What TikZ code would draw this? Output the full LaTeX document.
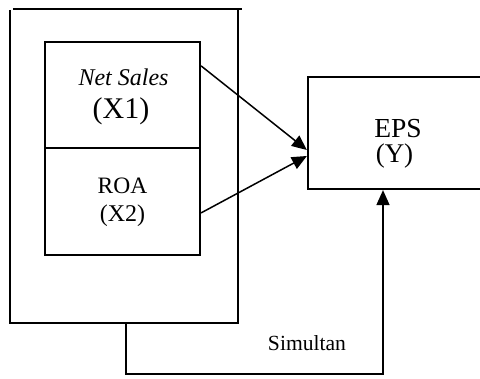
\documentclass[tikz,border=0pt]{standalone}
\usepackage{fontspec}
\setmainfont{Liberation Serif}
\usetikzlibrary{arrows.meta,calc}
\tikzset{
  frameline/.style={line width=1.7pt},
  varbox/.style={draw, line width=2.2pt, inner sep=0pt, fill=white},
  link/.style={line width=1.5pt, -{Triangle[length=15pt,width=13pt]}},
  lbl/.style={inner sep=0pt, anchor=base},
}
\begin{document}
\begin{tikzpicture}[x=1pt,y=-1pt]
  \useasboundingbox (0,0) rectangle (480,379);
  % enclosing frame around the independent variables
  \node[inner sep=0pt, minimum width=228pt, minimum height=314pt] (outer) at (124,166) {};
  \draw[frameline] ($(outer.north west)+(0,1.5)$) -- (outer.south west) -- (outer.south east) -- (outer.north east);
  \draw[frameline] ($(outer.north west)+(3,0)$) -- ($(outer.north east)+(3.5,0)$);
  % independent variables
  \node[varbox, minimum width=155pt, minimum height=106pt] (x1) at (122.5,95) {};
  \node[varbox, minimum width=155pt, minimum height=107pt] (x2) at (122.5,201.5) {};
  % dependent variable (open to the right)
  \node[varbox, minimum width=200pt, minimum height=112pt] (y) at (408,133) {};
  % labels
  \node[lbl, font=\fontsize{24}{26}\selectfont\itshape] (t1) at (123.5,86) {Net Sales};
  \node[lbl, font=\fontsize{30}{32}\selectfont] (t2) at (121,119) {(X1)};
  \node[lbl, font=\fontsize{23.5}{26}\selectfont] (t3) at (122.5,194) {ROA};
  \node[lbl, font=\fontsize{24}{26}\selectfont] (t4) at (122.5,222) {(X2)};
  \node[lbl, font=\fontsize{27.5}{30}\selectfont] (t5) at (398,138) {EPS};
  \node[lbl, font=\fontsize{27}{30}\selectfont] (t6) at (394.5,163) {(Y)};
  \node[lbl, font=\fontsize{21.6}{24}\selectfont] (t7) at (307,351) {Simultan};
  % connector end points
  \coordinate (a1) at ($(x1.north east)+(0,25)$);
  \coordinate (a2) at ($(x2.north east)+(0,66)$);
  \coordinate (b1) at ($(y.west)+(0,17)$);
  \coordinate (b2) at ($(y.west)+(0,23)$);
  \coordinate (s0) at (outer.south);
  \coordinate (s1) at (126,374);
  \coordinate (s2) at (383,374);
  \draw[link] (a1) -- (b1);
  \draw[link] (a2) -- (b2);
  \draw[link] (s0 -| s1) -- (s1) -- (s2) -- (s2 |- y.south);
\end{tikzpicture}
\end{document}
